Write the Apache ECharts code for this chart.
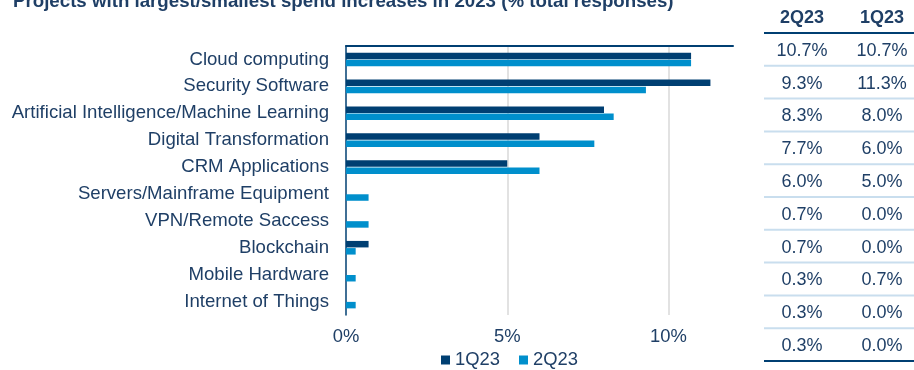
<!DOCTYPE html>
<html>
<head>
<meta charset="utf-8">
<script src="https://cdn.jsdelivr.net/npm/echarts@6/dist/echarts.min.js"></script>
<style>
  html, body { margin: 0; padding: 0; background: #ffffff; }
  #chart { width: 914px; height: 370px; }
</style>
</head>
<body>
<div id="chart"></div>
<script>
// ---- data ----
const titleText = 'Projects with largest/smallest spend increases in 2023 (% total responses)';
const categories = [
  'Cloud computing',
  'Security Software',
  'Artificial Intelligence/Machine Learning',
  'Digital Transformation',
  'CRM Applications',
  'Servers/Mainframe Equipment',
  'VPN/Remote Saccess',
  'Blockchain',
  'Mobile Hardware',
  'Internet of Things'
];
const seriesNames = ['1Q23', '2Q23'];
const q1Values = [10.7, 11.3, 8.0, 6.0, 5.0, 0.0, 0.0, 0.7, 0.0, 0.0];
const q2Values = [10.7, 9.3, 8.3, 7.7, 6.0, 0.7, 0.7, 0.3, 0.3, 0.3];
const tableHeaders = ['2Q23', '1Q23'];
const xTicks = [0, 5, 10];
const xMax = 12;

// ---- styling ----
const navy = '#003F72';
const sky = '#008FCC';
const textColor = '#1F3F66';
const font = '"Liberation Sans", Arial, sans-serif';

// table layout (right-hand side)
const tbl = { x1: 764, x2: 914, colX: [802, 882], headY: 18, topY: 33, rowH: 32.8 };

const fmt = v => v.toFixed(1) + '%';

const graphics = [];
graphics.push({
  type: 'text', x: 13, y: 2,
  style: { text: titleText, fill: textColor, fontSize: 18.7, fontWeight: 'bold',
           fontFamily: font, align: 'left', verticalAlign: 'middle' }
});

const tableCols = [q2Values, q1Values];
tableHeaders.forEach((h, c) => {
  graphics.push({
    type: 'text', x: tbl.colX[c], y: tbl.headY,
    style: { text: h, fill: textColor, fontSize: 18, fontWeight: 'bold',
             fontFamily: font, align: 'center', verticalAlign: 'middle' }
  });
  tableCols[c].forEach((v, i) => {
    graphics.push({
      type: 'text', x: tbl.colX[c], y: tbl.topY + tbl.rowH * (i + 0.5) + 1.5,
      style: { text: fmt(v), fill: textColor, fontSize: 18,
               fontFamily: font, align: 'center', verticalAlign: 'middle' }
    });
  });
});
for (let i = 0; i <= categories.length; i++) {
  const y = tbl.topY + tbl.rowH * i;
  const edge = (i === 0 || i === categories.length);
  graphics.push({
    type: 'line', z: 10,
    shape: { x1: tbl.x1, y1: y, x2: tbl.x2, y2: y },
    style: { stroke: edge ? navy : '#C9DEEE', lineWidth: 2 }
  });
}

const chart = echarts.init(document.getElementById('chart'), null, { renderer: 'canvas' });
chart.setOption({
  backgroundColor: '#ffffff',
  animation: false,
  textStyle: { fontFamily: font },
  grid: { left: 346, right: 181, top: 46, bottom: 55, containLabel: false },
  legend: {
    data: seriesNames, left: 441, top: 351, padding: 0,
    icon: 'rect', itemWidth: 9, itemHeight: 9, itemGap: 19,
    textStyle: { color: textColor, fontSize: 18.4, fontFamily: font }
  },
  xAxis: [
    {
      type: 'value', min: xTicks[0], max: xMax, interval: xTicks[1] - xTicks[0],
      position: 'bottom',
      axisLine: { show: false }, axisTick: { show: false },
      axisLabel: { color: textColor, fontSize: 18.4, fontFamily: font, margin: 13,
                   showMaxLabel: false,
                   formatter: v => (xTicks.indexOf(v) >= 0 ? v + '%' : '') },
      splitLine: { show: true, showMinLine: false, showMaxLine: false,
                   lineStyle: { color: '#D9D9D9', width: 1.5 } }
    },
    {
      type: 'value', min: xTicks[0], max: xMax, position: 'top',
      axisLine: { show: true, onZero: false, lineStyle: { color: navy, width: 2 } },
      axisTick: { show: false }, axisLabel: { show: false }, splitLine: { show: false }
    }
  ],
  yAxis: {
    type: 'category', data: categories, inverse: true,
    axisLine: { show: true, lineStyle: { color: navy, width: 1.5 } },
    axisTick: { show: false },
    axisLabel: { color: textColor, fontSize: 18.6, fontFamily: font, margin: 17 }
  },
  series: [
    { type: 'bar', name: seriesNames[0], data: q1Values, xAxisIndex: 0,
      barWidth: 6.5, barGap: '10%', itemStyle: { color: navy } },
    { type: 'bar', name: seriesNames[1], data: q2Values, xAxisIndex: 0,
      barWidth: 6.5, barGap: '10%', itemStyle: { color: sky } }
  ],
  graphic: graphics
});
</script>
</body>
</html>
